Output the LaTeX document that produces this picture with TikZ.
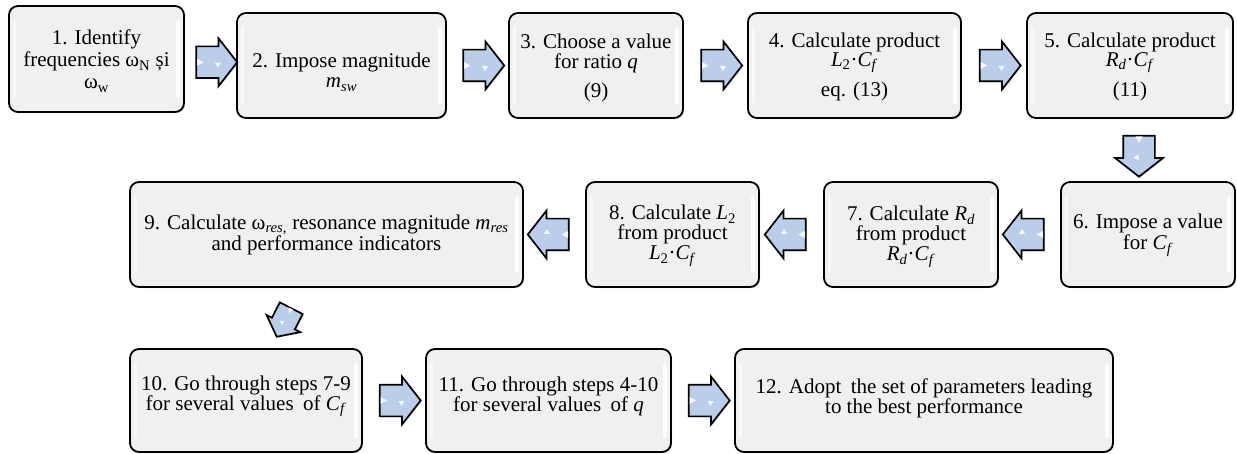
\documentclass[tikz,border=0pt]{standalone}
\usepackage{fontspec}
\setmainfont{Liberation Serif}
\usetikzlibrary{shapes.arrows,shadows,calc}
\definecolor{boxfill}{RGB}{240,240,240}
\definecolor{arrEdge}{RGB}{186,206,233}
\definecolor{arrMid}{RGB}{222,232,246}
\tikzset{
  stepbox/.style={draw=black, line width=1.8pt, rounded corners=9pt, fill=boxfill,
    inner sep=0pt, outer sep=0pt,
    drop shadow={shadow xshift=1.2pt, shadow yshift=-1.2pt, opacity=0.35},
    path picture={
      \fill[white, opacity=0.6, rounded corners=2pt]
        ($(path picture bounding box.north west)+(4pt,-14pt)$) rectangle
        ($(path picture bounding box.south west)+(7pt,14pt)$);
      \fill[white, opacity=0.9, rounded corners=2pt]
        ($(path picture bounding box.north east)+(-8pt,-14pt)$) rectangle
        ($(path picture bounding box.south east)+(-4pt,14pt)$);
    }},
  boxtext/.style={align=center, anchor=base, inner sep=0pt,
    font=\fontsize{21}{20}\selectfont},
  blockarrow/.style={single arrow, draw=black, line width=1.7pt,
    top color=arrEdge, middle color=arrMid, bottom color=arrEdge,
    minimum height=41pt, inner xsep=0pt, inner ysep=15pt,
    single arrow head extend=8pt, single arrow tip angle=104,
    drop shadow={shadow xshift=1pt, shadow yshift=-1pt, opacity=0.35}},
  smallarrow/.style={blockarrow, minimum height=32pt, inner ysep=12pt,
    single arrow head extend=6pt},
  arrmark/.style={fill=white, opacity=0.85},
}
\newcommand{\vi}[1]{\textit{#1}}
\newcommand{\sbs}[1]{\textsubscript{#1}}
% small white marks inside a block arrow: node name, rotation, scale
\newcommand{\arrowmarks}[3]{%
  \begin{scope}[shift={(#1.center)}, rotate=#2, scale=#3]
    \fill[arrmark] (-13.5,-3.5) -- (-7,0) -- (-13.5,3.5) -- cycle;
    \fill[arrmark] (4.5,0.5) -- (10.5,0.5) -- (7.5,5.5) -- cycle;
  \end{scope}}
\begin{document}
\begin{tikzpicture}[x=1pt,y=-1pt]
\useasboundingbox (0,0) rectangle (1237,454);
% row 1
\node[stepbox, minimum width=175pt, minimum height=106pt] (b1) at (96.5,59) {};
\node[stepbox, minimum width=209pt, minimum height=105pt] (b2) at (341.5,65.5) {};
\node[stepbox, minimum width=174pt, minimum height=105pt] (b3) at (596,65.5) {};
\node[stepbox, minimum width=213pt, minimum height=105pt] (b4) at (854.5,65.5) {};
\node[stepbox, minimum width=206pt, minimum height=105pt] (b5) at (1130,65.5) {};
% row 2
\node[stepbox, minimum width=174pt, minimum height=105pt] (b6) at (1148,234.5) {};
\node[stepbox, minimum width=174pt, minimum height=105pt] (b7) at (911,234.5) {};
\node[stepbox, minimum width=173pt, minimum height=105pt] (b8) at (672.5,234.5) {};
\node[stepbox, minimum width=393pt, minimum height=105pt] (b9) at (326.5,234.5) {};
% row 3
\node[stepbox, minimum width=232pt, minimum height=103pt] (b10) at (246,400.5) {};
\node[stepbox, minimum width=245pt, minimum height=103pt] (b11) at (548.5,400.5) {};
\node[stepbox, minimum width=378pt, minimum height=103pt] (b12) at (924,400.5) {};

% texts (anchor = baseline of the last line)
\node[boxtext, font=\fontsize{21}{22}\selectfont] (t1) at (96.5,89)
  {1. Identify\\frequencies ω\sbs{N} și\\ω\sbs{w}};
\node[boxtext] (t2) at (341.5,88)
  {2. Impose magnitude\\\vi{m}\sbs{\vi{sw}}};
\node[boxtext] (t3) at (596,98)
  {3. Choose a value\\for ratio \vi{q}\\[9pt](9)};
\node[boxtext, font=\fontsize{21}{19}\selectfont] (t4) at (854.5,97)
  {4. Calculate product\\\vi{L}\sbs{2}·\vi{C}\sbs{\vi{f}}\\[9pt]eq. (13)};
\node[boxtext, font=\fontsize{21}{19}\selectfont] (t5) at (1130,97)
  {5. Calculate product\\\vi{R}\sbs{\vi{d}}·\vi{C}\sbs{\vi{f}}\\[9pt](11)};
\node[boxtext, font=\fontsize{21}{21}\selectfont] (t6) at (1148,250)
  {6. Impose a value\\for \vi{C}\sbs{\vi{f}}};
\node[boxtext] (t7) at (911,261)
  {7. Calculate \vi{R}\sbs{\vi{d}}\\from product\\\vi{R}\sbs{\vi{d}}·\vi{C}\sbs{\vi{f}}};
\node[boxtext] (t8) at (672.5,260)
  {8. Calculate \vi{L}\sbs{2}\\from product\\\vi{L}\sbs{2}·\vi{C}\sbs{\vi{f}}};
\node[boxtext, font=\fontsize{21}{19.5}\selectfont] (t9) at (326.5,251)
  {9. Calculate ω\sbs{\vi{res},} resonance magnitude \vi{m}\sbs{\vi{res}}\\and performance indicators};
\node[boxtext] (t10) at (246,410)
  {10. Go through steps 7-9\\for several values\hspace{0.45em}of \vi{C}\sbs{\vi{f}}};
\node[boxtext] (t11) at (548.5,411)
  {11. Go through steps 4-10\\for several values\hspace{0.45em}of \vi{q}};
\node[boxtext] (t12) at (924,413)
  {12. Adopt\hspace{0.45em}the set of parameters leading\\to the best performance};

% connectors
\node[blockarrow] (a12) at ($(b1.east)!0.5!(b2.west)$) {};
\node[blockarrow] (a23) at ($(b2.east)!0.5!(b3.west)$) {};
\node[blockarrow] (a34) at ($(b3.east)!0.5!(b4.west)$) {};
\node[blockarrow] (a45) at ($(b4.east)!0.5!(b5.west)$) {};
\node[blockarrow, rotate=270] (a56) at ($(b5.south)!0.5!(b6.north)$) {};
\node[blockarrow, rotate=180] (a67) at ($(b6.west)!0.5!(b7.east)$) {};
\node[blockarrow, rotate=180] (a78) at ($(b7.west)!0.5!(b8.east)$) {};
\node[blockarrow, rotate=180] (a89) at ($(b8.west)!0.5!(b9.east)$) {};
\node[smallarrow, rotate=243] (a910) at ($(b9.south)!0.5!(b10.north)$) {};
\node[blockarrow] (a1011) at ($(b10.east)!0.5!(b11.west)$) {};
\node[blockarrow] (a1112) at ($(b11.east)!0.5!(b12.west)$) {};

\arrowmarks{a12}{0}{1}
\arrowmarks{a23}{0}{1}
\arrowmarks{a34}{0}{1}
\arrowmarks{a45}{0}{1}
\arrowmarks{a56}{270}{1}
\arrowmarks{a67}{180}{1}
\arrowmarks{a78}{180}{1}
\arrowmarks{a89}{180}{1}
\arrowmarks{a910}{243}{0.78}
\arrowmarks{a1011}{0}{1}
\arrowmarks{a1112}{0}{1}
\end{tikzpicture}
\end{document}
